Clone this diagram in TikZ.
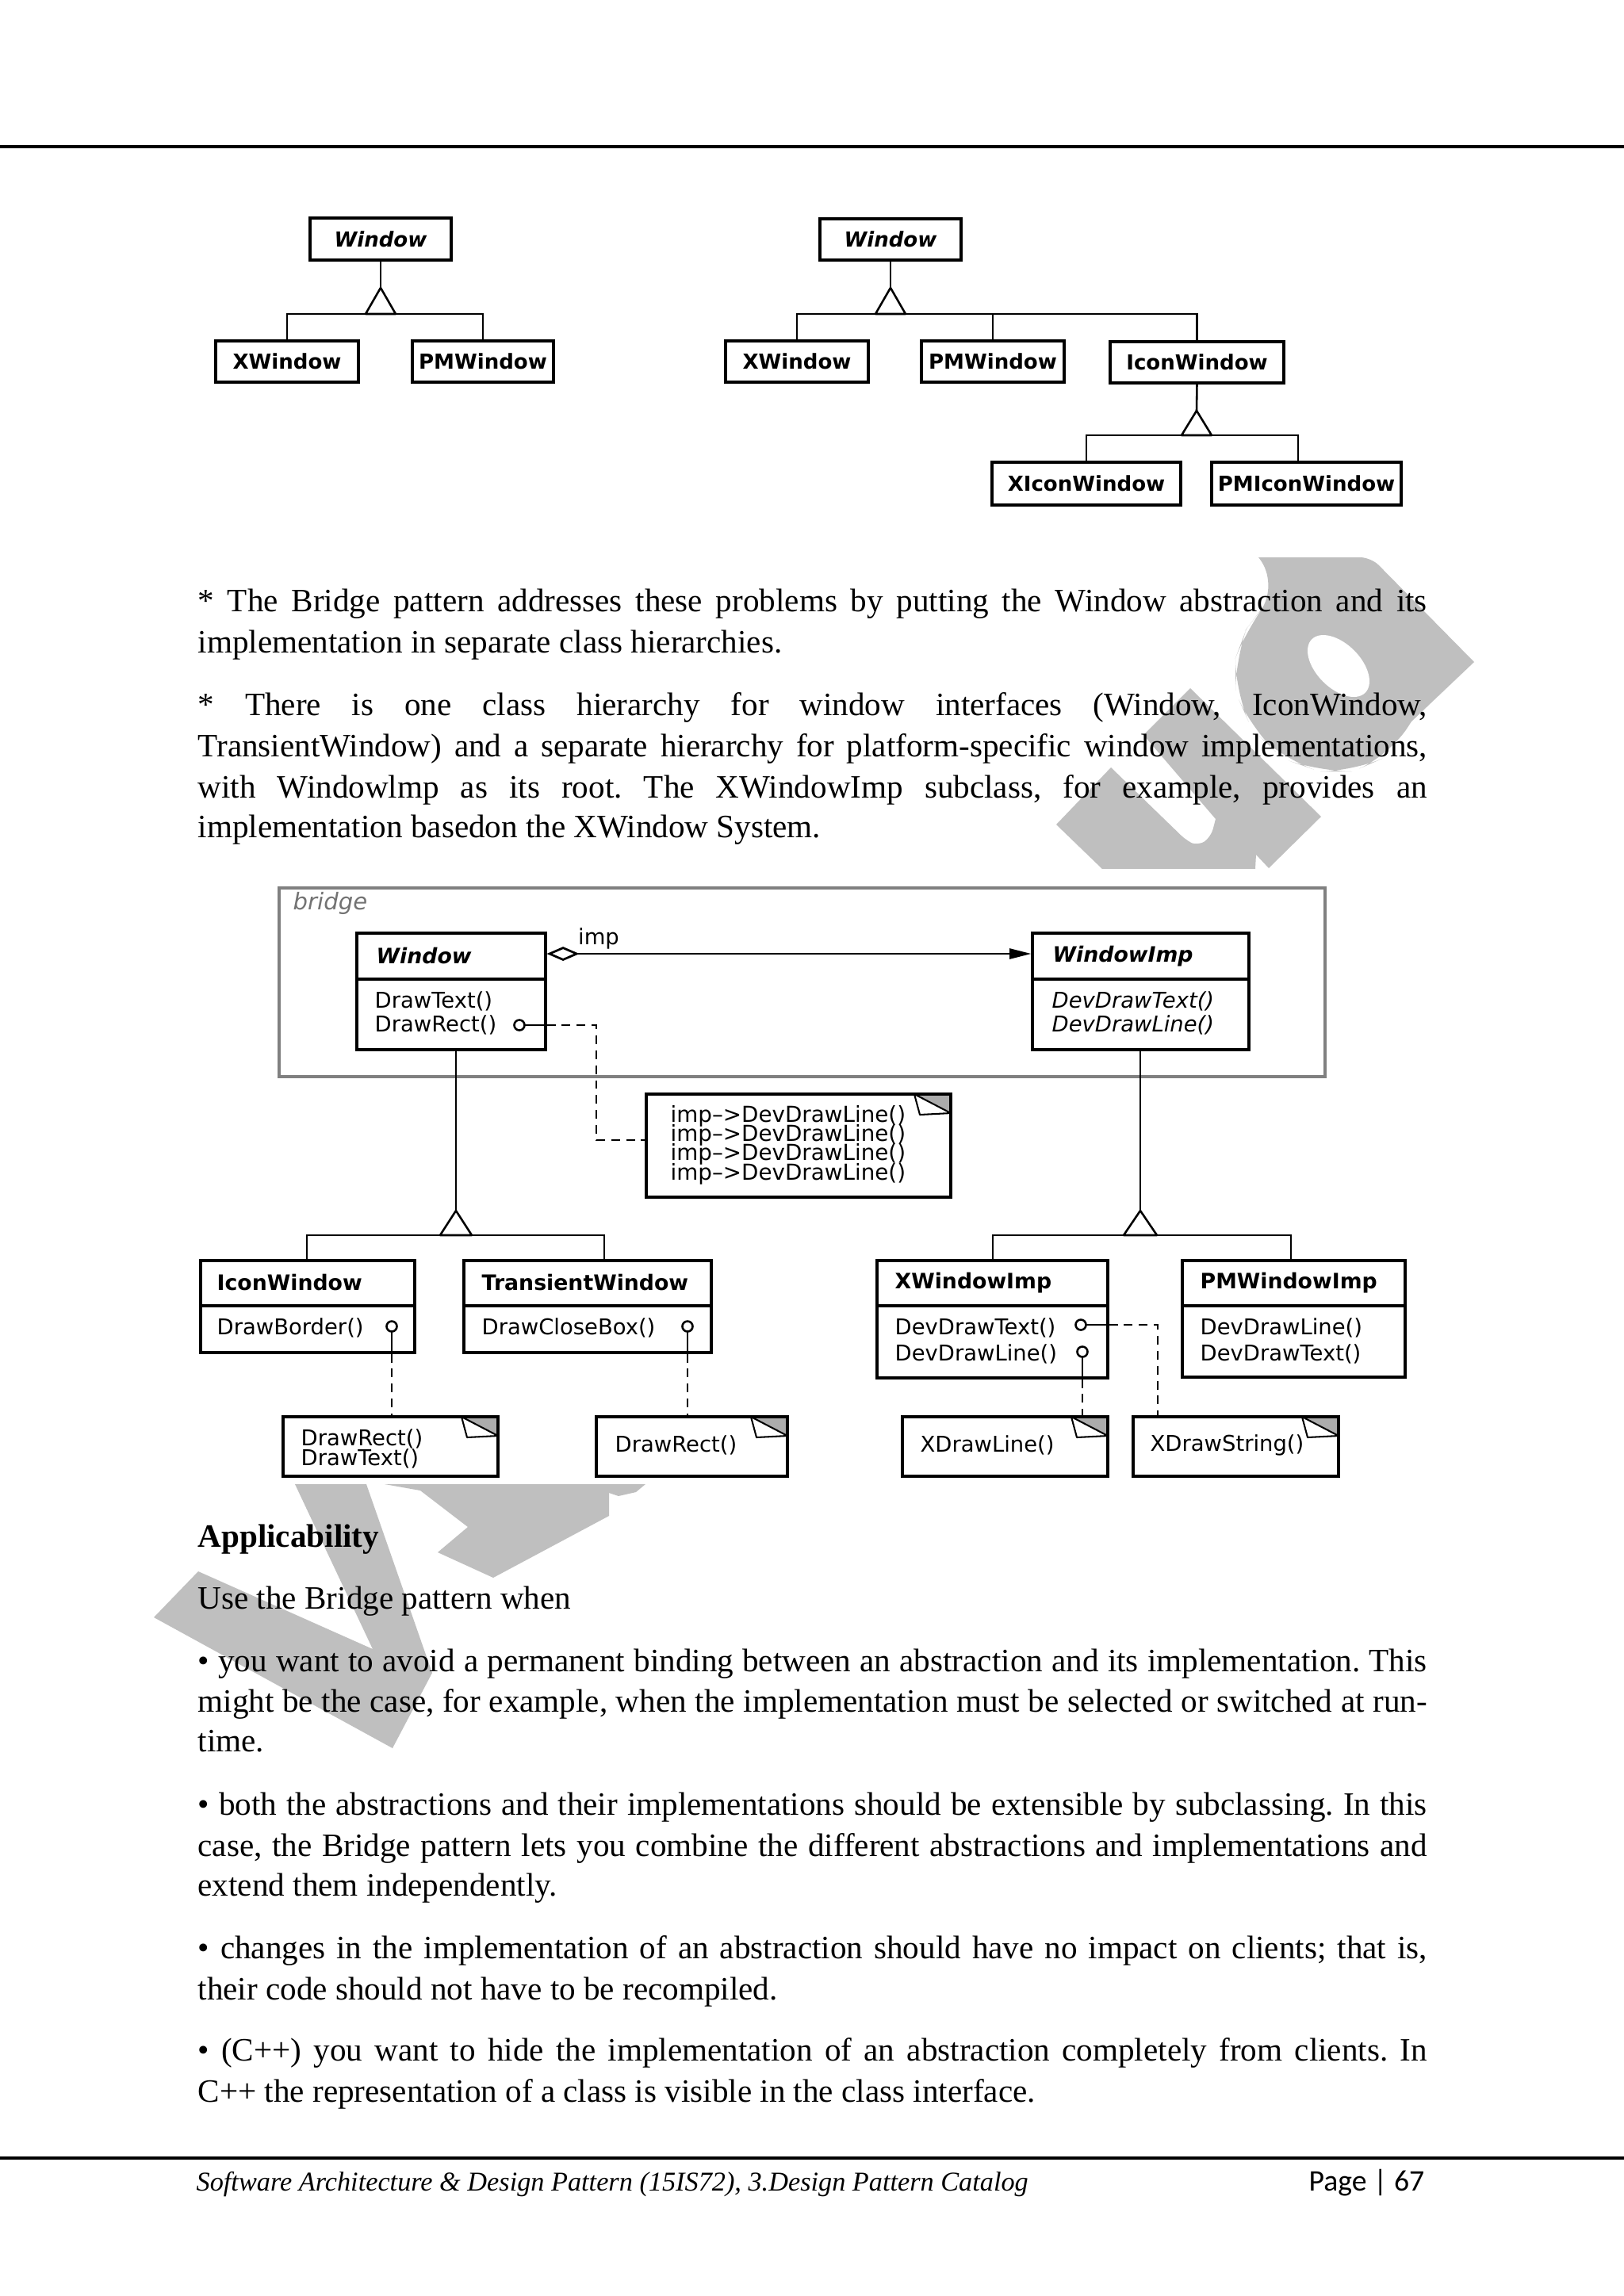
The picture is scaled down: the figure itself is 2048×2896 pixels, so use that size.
\documentclass[tikz,border=0pt]{standalone}
\usepackage{fontspec}
\setmainfont{Liberation Serif}
\newfontfamily\dsans{DejaVu Sans}
\newfontfamily\calib{Carlito}
\usetikzlibrary{arrows.meta,fit}
\frenchspacing
\newlength{\tw}
\setlength{\tw}{15.894cm}
\newcommand{\tightlines}{\setlength{\lineskiplimit}{-20pt}}
\newcommand{\jl}[3]{\node[body] (#1) at (249,#2) {\makebox[\tw][s]{#3}};}
\newcommand{\rl}[3]{\node[body] (#1) at (249,#2) {#3};}
\newcommand{\tbox}[6]{%
  \coordinate (#1-a) at (#2,#3);
  \coordinate (#1-b) at (#4,#5);
  \node[cls,fit=(#1-a)(#1-b)] (#1) {};
  \node[tlbl] (#1-t) at (#1.center) {#6};}
\newcommand{\ubox}[6]{%
  \coordinate (#1-a) at (#2,#3);
  \coordinate (#1-b) at (#4,#5);
  \node[cls,fit=(#1-a)(#1-b)] (#1) {};
  \draw[bw] (#2,#6) -- (#4,#6);}
\newcommand{\unote}[5]{%
  \coordinate (#1-a) at (#2,#3);
  \coordinate (#1-b) at (#4,#5);
  \node[cls,fill=white,fit=(#1-a)(#1-b)] (#1) {};
  \fill[gray!65] (#4-46,#3) -- (#4,#3) -- (#4,#3+24) -- cycle;
  \draw[line width=0.6pt,fill=white,line join=round] (#4-46,#3) -- (#4-39,#3+26) -- (#4,#3+24) -- cycle;
  \draw[bw] (#2,#3) rectangle (#4,#5);}
\begin{document}
\begin{tikzpicture}[x=0.010254cm,y=-0.010254cm,
  body/.style={anchor=base west,inner sep=0pt,font=\fontsize{12}{15}\selectfont},
  bw/.style={line width=0.9pt},
  cls/.style={draw,line width=0.9pt,inner sep=0pt},
  tlbl/.style={inner sep=0pt,font=\dsans\bfseries\fontsize{7.6}{9}\selectfont},
  conn/.style={line width=0.75pt},
  dsh/.style={line width=0.75pt,dash pattern=on 3.2pt off 2.3pt},
  ttl/.style={anchor=west,inner sep=0pt,font=\dsans\bfseries\fontsize{7.8}{9}\selectfont},
  mth/.style={anchor=west,inner sep=0pt,font=\dsans\fontsize{8}{9}\selectfont},
  wm/.style={fill=gray!50,draw=none}]
\useasboundingbox (0,0) rectangle (2048,2896);
\fill[white] (0,0) rectangle (2048,2896);

% ---------- watermark ----------
\fill[wm] (495,2205) -- (194,2040) -- (250,1982) -- (470,2080) -- (372,1872) -- (462,1872) -- (545,2110) -- cycle;
\fill[wm] (485,1872) -- (768,1872) -- (768,1912) -- (622,1990) -- (552,1958) -- (590,1926) -- (530,1880) -- cycle;
\fill[wm] (752,1872) -- (814,1872) -- (802,1882) -- (780,1887) -- (762,1881) -- cycle;
% rotated "u"
\fill[wm] (1332,1040) -- (1390,1096) -- (1583,1096) -- (1584,1078) -- (1600,1095) -- (1666,1030) -- (1501,868)
  -- (1442,927) -- (1533,1033) [rounded corners=3pt] -- (1527,1056) -- (1511,1067) -- (1497,1061) [sharp corners] -- (1401,968) -- cycle;
% rotated "p"
\fill[wm,rounded corners=4pt] (1587,703) -- (1729,703) [sharp corners] -- (1859,835) -- (1780,910)
  [rounded corners=12pt] -- (1752,953) -- (1706,973) -- (1664,973) -- (1618,957) -- (1579,920) -- (1558,873) -- (1558,830) -- (1572,793) -- (1595,763) -- (1614,737) [sharp corners] -- cycle;
\fill[white,rotate around={-45:(1688,840)}] (1688,840) ellipse [x radius=13.9pt, y radius=8.1pt];

% white background of the class diagram picture
\fill[white] (240,1096) rectangle (1800,1872);

% ---------- header / footer rules ----------
\coordinate (hl1) at (0,185); \coordinate (hl2) at (2048,185);
\draw[line width=1pt] (hl1) -- (hl2);
\coordinate (fl1) at (0,2722); \coordinate (fl2) at (2048,2722);
\draw[line width=1pt] (fl1) -- (fl2);

% ---------- top diagrams ----------
\tbox{tw1}{391}{275}{569}{328}{\itshape Window}
\tbox{tx1}{272}{430}{452}{482}{XWindow}
\tbox{tp1}{520}{430}{698}{482}{PMWindow}
\coordinate (g1) at (480,363); \coordinate (g1b) at (480,396);
\draw[conn] (tw1.south) -- (g1);
\draw[conn] (tx1.north) -- (tx1.north |- g1b) -- (tp1.north |- g1b) -- (tp1.north);
\draw[conn,fill=white,line join=round] (g1) -- ++(-19,33) -- ++(38,0) -- cycle;

\tbox{tw2}{1034}{276}{1212}{328}{\itshape Window}
\tbox{tx2}{915}{430}{1095}{482}{XWindow}
\tbox{tp2}{1162}{430}{1342}{482}{PMWindow}
\tbox{ti2}{1400}{431}{1619}{483}{IconWindow}
\coordinate (g2) at (1123,363); \coordinate (g2b) at (1123,396);
\draw[conn] (tw2.south) -- (g2);
\draw[conn] (tx2.north) -- (tx2.north |- g2b) -- (ti2.north |- g2b) -- (ti2.north);
\draw[conn] (tp2.north) -- (tp2.north |- g2b);
\draw[conn,fill=white,line join=round] (g2) -- ++(-19,33) -- ++(38,0) -- cycle;

\tbox{txi}{1251}{583}{1489}{637}{XIconWindow}
\tbox{tpi}{1528}{583}{1767}{637}{PMIconWindow}
\coordinate (g3) at (1509,518); \coordinate (g3b) at (1509,549); \coordinate (g3r) at (1637,549);
\draw[conn] (ti2.south) -- (g3);
\draw[conn] (txi.north) -- (txi.north |- g3b) -- (g3r) -- (g3r |- tpi.north);
\draw[conn,fill=white,line join=round] (g3) -- ++(-19,31) -- ++(38,0) -- cycle;

% ---------- bridge diagram ----------
\coordinate (bf-a) at (352,1120); \coordinate (bf-b) at (1671,1358);
\node[draw=black!50,line width=1.4pt,inner sep=0pt,fit=(bf-a)(bf-b)] (bframe) {};
\node[anchor=west,inner sep=0pt,text=black!55,font=\dsans\itshape\fontsize{8.5}{9}\selectfont] (blabel) at (369,1139) {bridge};

\ubox{win}{450}{1177}{688}{1324}{1235}
\node[ttl] (win-t) at (474,1206) {\itshape Window};
\node[mth] (win-m1) at (472,1263) {DrawText()};
\node[mth] (win-m2) at (472,1293) {DrawRect()};

\ubox{wimp}{1302}{1177}{1575}{1324}{1235}
\node[ttl] (wimp-t) at (1327,1206) {\itshape WindowImp};
\node[mth] (wimp-m1) at (1326,1263) {\itshape DevDrawText()};
\node[mth] (wimp-m2) at (1326,1293) {\itshape DevDrawLine()};

\coordinate (as) at (688,1203);
\draw[line width=0.8pt,{Diamond[open,length=12pt,width=5.2pt]}-{Triangle[length=8pt,width=3.8pt]}] (win.east |- as) -- (wimp.west |- as);
\node[inner sep=0pt,font=\dsans\fontsize{8}{9}\selectfont] (implbl) at (755,1184) {imp};

\unote{note1}{815}{1380}{1199}{1510}
\node[anchor=west,inner sep=0pt,align=left,font={\dsans\fontsize{8.1}{7.1}\selectfont\tightlines}] (note1-t) at (845,1444)
  {imp–>DevDrawLine()\\imp–>DevDrawLine()\\imp–>DevDrawLine()\\imp–>DevDrawLine()};

\coordinate (lp1) at (655,1293);
\coordinate (k1) at (752,1293); \coordinate (k2) at (752,1438);
\draw[conn] (lp1) -- (win.east |- lp1);
\draw[dsh] (win.east |- lp1) -- (k1) -- (k2) -- (k2 -| note1.west);
\draw[conn,fill=white] (lp1) circle[radius=1.9pt];

% left hierarchy
\ubox{icw}{253}{1590}{523}{1706}{1647}
\node[ttl] (icw-t) at (273,1618) {IconWindow};
\node[mth] (icw-m1) at (273,1675) {DrawBorder()};
\ubox{trw}{585}{1590}{897}{1706}{1647}
\node[ttl] (trw-t) at (607,1618) {TransientWindow};
\node[mth] (trw-m1) at (607,1675) {DrawCloseBox()};

\coordinate (g4) at (575,1527); \coordinate (g4l) at (387,1558); \coordinate (g4r) at (762,1558);
\draw[conn] (win.south -| g4) -- (g4);
\draw[conn] (g4l |- icw.north) -- (g4l) -- (g4r) -- (g4r |- trw.north);
\draw[conn,fill=white,line join=round] (g4) -- ++(-20,31) -- ++(40,0) -- cycle;

% right hierarchy
\ubox{xwi}{1106}{1590}{1397}{1738}{1647}
\node[ttl] (xwi-t) at (1128,1618) {XWindowImp};
\node[mth] (xwi-m1) at (1128,1675) {DevDrawText()};
\node[mth] (xwi-m2) at (1128,1708) {DevDrawLine()};
\ubox{pmwi}{1491}{1590}{1772}{1737}{1647}
\node[ttl] (pmwi-t) at (1513,1618) {PMWindowImp};
\node[mth] (pmwi-m1) at (1513,1675) {DevDrawLine()};
\node[mth] (pmwi-m2) at (1513,1708) {DevDrawText()};

\coordinate (g5) at (1438,1527); \coordinate (g5l) at (1252,1558); \coordinate (g5r) at (1628,1558);
\draw[conn] (wimp.south -| g5) -- (g5);
\draw[conn] (g5l |- xwi.north) -- (g5l) -- (g5r) -- (g5r |- pmwi.north);
\draw[conn,fill=white,line join=round] (g5) -- ++(-21,31) -- ++(42,0) -- cycle;

% notes
\unote{n3}{357}{1787}{628}{1862}
\node[anchor=west,inner sep=0pt,align=left,font={\dsans\fontsize{8}{7.3}\selectfont\tightlines}] (n3-t) at (379,1827) {DrawRect()\\DrawText()};
\unote{n4}{752}{1787}{993}{1862}
\node[mth] (n4-t) at (775,1823) {DrawRect()};
\unote{n5}{1138}{1787}{1397}{1862}
\node[mth] (n5-t) at (1160,1823) {XDrawLine()};
\unote{n6}{1429}{1787}{1688}{1862}
\node[mth] (n6-t) at (1450,1823) {XDrawString()};

% lollipops and dashed links
\coordinate (lp2) at (494,1673);
\draw[conn] (lp2) -- (icw.south -| lp2);
\draw[dsh] (icw.south -| lp2) -- (n3.north -| lp2);
\draw[conn,fill=white] (lp2) circle[radius=1.9pt];

\coordinate (lp3) at (867,1673);
\draw[conn] (lp3) -- (trw.south -| lp3);
\draw[dsh] (trw.south -| lp3) -- (n4.north -| lp3);
\draw[conn,fill=white] (lp3) circle[radius=1.9pt];

\coordinate (lp4) at (1363,1671); \coordinate (k3) at (1460,1671);
\draw[conn] (lp4) -- (xwi.east |- lp4);
\draw[dsh] (xwi.east |- lp4) -- (k3) -- (k3 |- n6.north);
\draw[conn,fill=white] (lp4) circle[radius=1.9pt];

\coordinate (lp5) at (1365,1705);
\draw[conn] (lp5) -- (xwi.south -| lp5);
\draw[dsh] (xwi.south -| lp5) -- (n5.north -| lp5);
\draw[conn,fill=white] (lp5) circle[radius=1.9pt];

% ---------- body text ----------
\jl{p1a}{771}{* The Bridge pattern addresses these problems by putting the Window abstraction and its}
\rl{p1b}{823}{implementation in separate class hierarchies.}
\jl{p2a}{902}{* There is one class hierarchy for window interfaces (Window, IconWindow,}
\jl{p2b}{954}{TransientWindow) and a separate hierarchy for platform-specific window implementations,}
\jl{p2c}{1006}{with Windowlmp as its root. The XWindowImp subclass, for example, provides an}
\rl{p2d}{1056}{implementation basedon the XWindow System.}

\rl{hApp}{1951}{\bfseries Applicability}
\rl{p3}{2029}{Use the Bridge pattern when}
\jl{p4a}{2108}{• you want to avoid a permanent binding between an abstraction and its implementation. This}
\jl{p4b}{2159}{might be the case, for example, when the implementation must be selected or switched at run-}
\rl{p4c}{2209}{time.}
\jl{p5a}{2289}{• both the abstractions and their implementations should be extensible by subclassing. In this}
\jl{p5b}{2341}{case, the Bridge pattern lets you combine the different abstractions and implementations and}
\rl{p5c}{2391}{extend them independently.}
\jl{p6a}{2470}{• changes in the implementation of an abstraction should have no impact on clients; that is,}
\rl{p6b}{2522}{their code should not have to be recompiled.}
\jl{p7a}{2599}{• (C++) you want to hide the implementation of an abstraction completely from clients. In}
\rl{p7b}{2651}{C++ the representation of a class is visible in the class interface.}

% ---------- footer ----------
\node[anchor=base west,inner sep=0pt,font=\itshape\fontsize{10}{12}\selectfont] (foot) at (247,2763)
  {Software Architecture \& Design Pattern (15IS72), 3.Design Pattern Catalog};
\node[anchor=base west,inner sep=0pt,font=\calib\fontsize{11}{13}\selectfont] (page) at (1650,2763) {Page | 67};
\end{tikzpicture}
\end{document}
